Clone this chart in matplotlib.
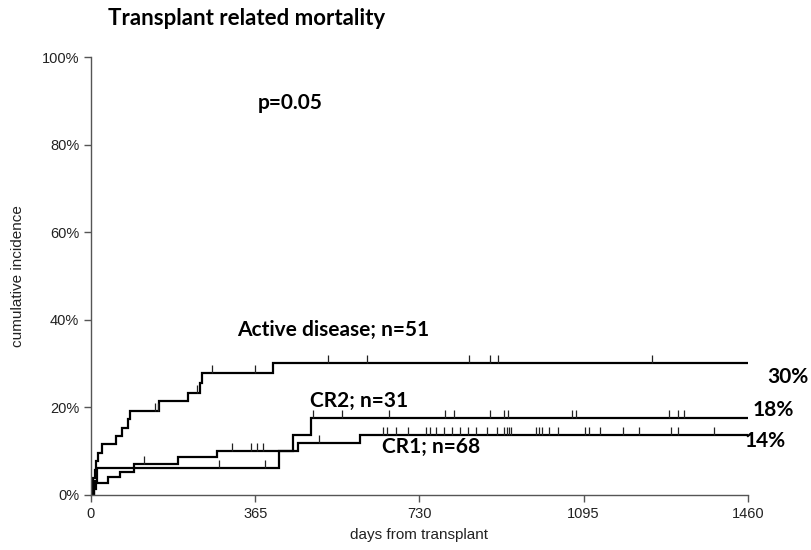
import numpy as np
import matplotlib
matplotlib.use("Agg")
import matplotlib.pyplot as plt
from matplotlib.path import Path

# ---------------- data (days, cumulative incidence %) ----------------
active_t = [0, 2, 5, 8, 11, 16, 25, 55, 70, 83, 87, 151, 215, 242, 247, 404, 1457]
active_v = [0, 1.9, 3.9, 5.8, 7.7, 9.6, 11.6, 13.5, 15.3, 17.3, 19.2, 21.5, 23.3, 25.5, 27.8, 30.1, 30.1]
active_cens = [142, 148, 235, 268, 364, 526, 613, 840, 888, 905, 1247]

cr2_t = [0, 6, 14, 418, 450, 488, 1457]
cr2_v = [0, 3.2, 6.1, 10.0, 13.8, 17.5, 17.5]
cr2_cens = [284, 387, 494, 557, 662, 788, 808, 887, 917, 926, 1070, 1079, 1285, 1305, 1318]

cr1_t = [0, 7, 12, 38, 64, 95, 193, 281, 460, 598, 1457]
cr1_v = [0, 1.4, 2.8, 4.2, 5.3, 7.0, 8.6, 10.0, 11.9, 13.7, 13.7]
cr1_cens = [118, 313, 355, 368, 382, 507, 648, 657, 678, 705, 745, 754, 767, 785, 802,
            820, 838, 855, 880, 902, 918, 924, 929, 933, 990, 996, 1002, 1018, 1039,
            1098, 1107, 1131, 1183, 1218, 1289, 1304, 1384]

x_ticks = [0, 365, 730, 1095, 1460]
y_ticks = [0, 20, 40, 60, 80, 100]

groups = [
    ("Active disease; n=51", active_t, active_v, active_cens, "30%", (324, 37.7), (1503, 26.9)),
    ("CR2; n=31", cr2_t, cr2_v, cr2_cens, "18%", (487, 21.4), (1470, 19.4)),
    ("CR1; n=68", cr1_t, cr1_v, cr1_cens, "14%", (646, 10.9), (1452, 12.3)),
]

# ---------------- figure ----------------
fig = plt.figure(figsize=(8.12, 5.5), dpi=100)
ax = fig.add_axes([0.112, 0.1, 0.809, 0.796])

tick_marker = Path([(0, 0), (0, 1)])
bold = dict(family="Lato", fontweight="bold", color="black")

for label, t, v, cens, endlab, lpos, epos in groups:
    t = np.asarray(t, float)
    v = np.asarray(v, float)
    ax.step(t, v, where="post", color="black", lw=1.6, solid_joinstyle="miter")
    idx = np.searchsorted(t, cens, side="right") - 1
    ax.plot(cens, v[idx], linestyle="none", marker=tick_marker, markersize=11,
            markeredgewidth=0.9, color="#222222")
    ax.text(lpos[0], lpos[1], label, fontsize=15, ha="left", va="center", **bold)
    ax.text(epos[0], epos[1], endlab, fontsize=15, ha="left", va="center",
            clip_on=False, **bold)

ax.text(371, 89.5, "p=0.05", fontsize=15, ha="left", va="center", **bold)
fig.text(0.133, 0.967, "Transplant related mortality", fontsize=16, ha="left",
         va="center", **bold)

ax.set_xlim(0, 1460)
ax.set_ylim(0, 100)
ax.set_xticks(x_ticks)
ax.set_xticklabels([str(x) for x in x_ticks])
ax.set_yticks(y_ticks)
ax.set_yticklabels([f"{y}%" for y in y_ticks])

for s in ("top", "right"):
    ax.spines[s].set_visible(False)
for s in ("left", "bottom"):
    ax.spines[s].set_color("#555555")
    ax.spines[s].set_linewidth(1.0)
ax.tick_params(axis="both", colors="#555555", labelcolor="#222222", length=5,
               width=1.0, labelsize=10.5)
for lab in ax.get_xticklabels() + ax.get_yticklabels():
    lab.set_family("Liberation Sans")

ax.set_xlabel("days from transplant", fontsize=11, family="Liberation Sans",
              color="#222222", labelpad=5)
ax.set_ylabel("cumulative incidence", fontsize=11, family="Liberation Sans",
              color="#222222", labelpad=12)

fig.savefig("out.png", dpi=100)
